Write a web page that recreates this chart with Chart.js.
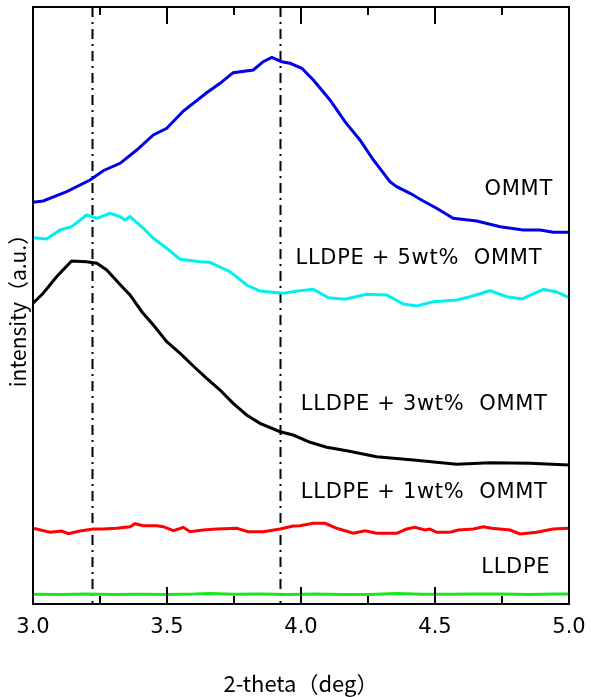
<!DOCTYPE html>
<html>
<head>
<meta charset="utf-8">
<script src="https://cdn.jsdelivr.net/npm/chart.js@4.4.1/dist/chart.umd.min.js"></script>
<style>
    body { margin: 0; background: #fff; }
    canvas { display: block; }
</style>
</head>
<body>
<canvas id="xrd" width="591" height="697"></canvas>
<script>
// 2-theta (deg) and intensity (a.u.), one pair of arrays per curve
const ommtX = [3.0, 3.038, 3.126, 3.213, 3.262, 3.325, 3.387, 3.449, 3.499, 3.561, 3.648, 3.698, 3.747, 3.822, 3.859, 3.891, 3.928, 3.959, 4.003, 4.046, 4.108, 4.164, 4.22, 4.27, 4.332, 4.357, 4.407, 4.456, 4.506, 4.568, 4.656, 4.743, 4.829, 4.892, 4.941, 5.0];
const ommtY = [401.7, 403, 412.3, 424, 433.3, 440.7, 454, 469, 475.7, 493, 511.3, 520.7, 531.3, 534, 542.3, 546.7, 542.3, 540.7, 535.7, 524, 504, 482.3, 464, 444, 422.3, 417.3, 410.7, 403, 395.7, 385.7, 383, 377.3, 374, 374, 371.7, 371.7];

const wt5X = [3.0, 3.051, 3.101, 3.144, 3.2, 3.238, 3.287, 3.325, 3.343, 3.362, 3.412, 3.449, 3.499, 3.549, 3.623, 3.66, 3.735, 3.797, 3.847, 3.934, 3.996, 4.046, 4.102, 4.164, 4.245, 4.32, 4.382, 4.432, 4.494, 4.581, 4.631, 4.705, 4.768, 4.824, 4.904, 4.954, 5.0];
const wt5Y = [366.3, 365, 374, 377.3, 389, 385.7, 390.7, 387.3, 384, 387.3, 375.7, 365.7, 355.7, 344.7, 342.3, 341.7, 332.3, 319, 313, 310.7, 313.3, 314.7, 306.3, 304.7, 309.7, 309, 300, 298, 302.3, 304, 307.3, 313.3, 307.3, 305, 314.7, 312, 306.3];

const wt3X = [3.0, 3.038, 3.088, 3.144, 3.2, 3.238, 3.275, 3.306, 3.337, 3.362, 3.406, 3.449, 3.499, 3.549, 3.598, 3.648, 3.698, 3.747, 3.797, 3.847, 3.922, 3.971, 4.034, 4.096, 4.171, 4.282, 4.419, 4.581, 4.705, 4.854, 5.0];
const wt3Y = [300.7, 310.7, 327.3, 343, 342.3, 340.7, 334, 325, 316, 309, 292.3, 279, 262.3, 250.7, 238, 225.7, 214, 200.7, 189, 180.7, 172.3, 169, 161.7, 156.7, 153.3, 147.3, 144, 139.7, 141.3, 140.7, 139];

const wt1X = [3.0, 3.063, 3.107, 3.132, 3.175, 3.225, 3.262, 3.312, 3.362, 3.381, 3.412, 3.462, 3.486, 3.524, 3.561, 3.586, 3.635, 3.685, 3.76, 3.803, 3.859, 3.922, 3.971, 3.996, 4.046, 4.09, 4.133, 4.195, 4.239, 4.282, 4.357, 4.394, 4.425, 4.463, 4.481, 4.506, 4.556, 4.587, 4.643, 4.68, 4.712, 4.78, 4.817, 4.879, 4.941, 5.0];
const wt1Y = [75.7, 71.7, 73, 70.3, 73, 75, 75, 75.7, 77.3, 80.3, 78.3, 78.3, 77.3, 73.3, 76.7, 72.3, 74, 75, 75.7, 72.3, 72.3, 75, 78, 78.3, 80.7, 80.7, 75.7, 70.7, 73.3, 70.7, 70.7, 75, 76.7, 74, 75, 71.7, 71.7, 74, 75, 77.3, 75.7, 74, 70, 71.7, 75, 75.7];

const pureX = [3.0, 3.1, 3.2, 3.3, 3.4, 3.5, 3.6, 3.66, 3.75, 3.85, 3.95, 4.05, 4.15, 4.25, 4.36, 4.45, 4.55, 4.65, 4.75, 4.85, 4.95, 5.0];
const pureY = [9.7, 9.5, 10, 9.5, 9.8, 9.6, 10, 10.6, 9.7, 9.9, 9.6, 10, 9.6, 9.5, 10.4, 9.8, 9.7, 9.9, 10.1, 9.6, 9.9, 10];

// reference peak positions (dash-dot lines)
const peakLines = [3.22, 3.922];

const curveLabels = ['OMMT', 'LLDPE + 5wt%  OMMT', 'LLDPE + 3wt%  OMMT', 'LLDPE + 1wt%  OMMT', 'LLDPE'];
const labelAt = [[4.94, 414], [4.9, 345], [4.92, 199], [4.92, 111], [4.93, 36]];

const pairs = (xs, ys) => xs.map((x, i) => ({ x: x, y: ys[i] }));

function curve(xs, ys, color) {
    return {
        data: pairs(xs, ys),
        borderColor: color,
        borderWidth: 3,
        pointRadius: 0,
        tension: 0,
        fill: false
    };
}

const framePlugin = {
    id: 'frame',
    beforeDatasetsDraw(chart) {
        const ctx = chart.ctx;
        const area = chart.chartArea;
        const xs = chart.scales.x;
        ctx.save();
        ctx.strokeStyle = '#000';
        ctx.lineWidth = 2;
        ctx.setLineDash([10, 5, 2, 5]);
        peakLines.forEach(v => {
            const px = Math.round(xs.getPixelForValue(v)) + 0.5;
            ctx.beginPath();
            ctx.moveTo(px, area.top);
            ctx.lineTo(px, area.bottom);
            ctx.stroke();
        });
        ctx.restore();
    },
    afterDatasetsDraw(chart) {
        const ctx = chart.ctx;
        const area = chart.chartArea;
        const xs = chart.scales.x;
        const ys = chart.scales.y;
        ctx.save();
        ctx.strokeStyle = '#000';
        ctx.lineWidth = 2;
        ctx.strokeRect(area.left, area.top, area.right - area.left, area.bottom - area.top);

        // inward ticks on top and bottom
        for (let v = 3.25; v < 5; v += 0.25) {
            const px = xs.getPixelForValue(v);
            const len = Math.abs(v * 2 - Math.round(v * 2)) < 1e-6 ? 17 : 8;
            ctx.beginPath();
            ctx.moveTo(px, area.top);
            ctx.lineTo(px, area.top + len);
            ctx.moveTo(px, area.bottom);
            ctx.lineTo(px, area.bottom - len);
            ctx.stroke();
        }

        ctx.fillStyle = '#000';
        ctx.font = '21px "DejaVu Sans"';
        ctx.letterSpacing = '0.7px';
        ctx.textAlign = 'right';
        ctx.textBaseline = 'middle';
        curveLabels.forEach((t, i) => {
            ctx.fillText(t, xs.getPixelForValue(labelAt[i][0]), ys.getPixelForValue(labelAt[i][1]));
        });
        ctx.restore();
    }
};

new Chart(document.getElementById('xrd'), {
    type: 'line',
    data: {
        datasets: [
            curve(ommtX, ommtY, '#0000e8'),
            curve(wt5X, wt5Y, '#00f0f0'),
            curve(wt3X, wt3Y, '#000000'),
            curve(wt1X, wt1Y, '#ff0000'),
            curve(pureX, pureY, '#1ee61e')
        ]
    },
    options: {
        responsive: false,
        animation: false,
        devicePixelRatio: 1,
        layout: { padding: { left: 0, right: 22, top: 7, bottom: 0 } },
        plugins: {
            legend: { display: false },
            tooltip: { enabled: false }
        },
        scales: {
            x: {
                type: 'linear',
                min: 3,
                max: 5,
                border: { display: false },
                grid: { display: false, drawTicks: false },
                ticks: {
                    stepSize: 0.5,
                    autoSkip: false,
                    maxRotation: 0,
                    padding: 11,
                    color: '#000',
                    font: { family: 'DejaVu Sans', size: 21 },
                    callback: v => v.toFixed(1)
                },
                title: {
                    display: true,
                    text: '2-theta（deg）',
                    color: '#000',
                    font: { family: 'Noto Sans CJK JP', size: 22 },
                    padding: { top: 28, bottom: 0 }
                },
                afterFit(scale) {
                    scale.height = 93;
                    scale.paddingLeft = 0;
                    scale.paddingRight = 0;
                }
            },
            y: {
                min: 0,
                max: 597,
                border: { display: false },
                grid: { display: false, drawTicks: false },
                ticks: { display: false },
                title: {
                    display: true,
                    text: 'intensity（a.u.）',
                    color: '#000',
                    font: { family: 'Noto Sans CJK JP', size: 21 },
                    padding: { top: 5, bottom: 3 }
                },
                afterFit(scale) {
                    scale.width = 33;
                }
            }
        }
    },
    plugins: [framePlugin]
});
</script>
</body>
</html>
